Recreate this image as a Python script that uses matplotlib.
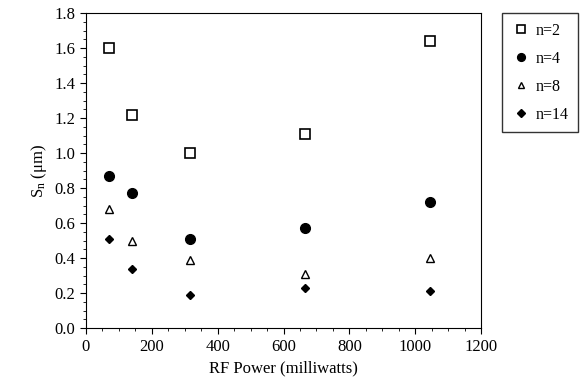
import matplotlib
matplotlib.use("Agg")
import matplotlib.pyplot as plt
from matplotlib.ticker import MultipleLocator

plt.rcParams['font.family'] = ['Liberation Serif', 'DejaVu Serif']
plt.rcParams['mathtext.fontset'] = 'custom'
plt.rcParams['mathtext.rm'] = 'Liberation Serif'
plt.rcParams['mathtext.it'] = 'Liberation Serif'

# data
power = [70, 140, 315, 665, 1045]
s_n2 = [1.60, 1.22, 1.00, 1.11, 1.64]
s_n4 = [0.87, 0.77, 0.51, 0.57, 0.72]
s_n8 = [0.68, 0.50, 0.39, 0.31, 0.40]
s_n14 = [0.51, 0.34, 0.19, 0.23, 0.21]

fig = plt.figure(figsize=(5.84, 3.86), dpi=100)
ax = fig.add_axes([0.147, 0.150, 0.677, 0.816])

ax.plot(power, s_n2, linestyle='none', marker='s', markersize=6.5, mfc='white', mec='black', mew=1.2, label='n=2')
ax.plot(power, s_n4, linestyle='none', marker='o', markersize=7, mfc='black', mec='black', label='n=4')
ax.plot(power, s_n8, linestyle='none', marker='^', markersize=6, mfc='white', mec='black', mew=1.0, label='n=8')
ax.plot(power, s_n14, linestyle='none', marker='D', markersize=4.5, mfc='black', mec='black', label='n=14')

ax.set_xlim(0, 1200)
ax.set_ylim(0, 1.8)
ax.xaxis.set_major_locator(MultipleLocator(200))
ax.xaxis.set_minor_locator(MultipleLocator(50))
ax.yaxis.set_major_locator(MultipleLocator(0.2))
ax.yaxis.set_minor_locator(MultipleLocator(0.05))
ax.yaxis.set_major_formatter(plt.FuncFormatter(lambda v, p: '%.1f' % v))
ax.tick_params(which='major', direction='out', length=4, labelsize=12)
ax.tick_params(which='minor', direction='out', length=2)

ax.set_xlabel('RF Power (milliwatts)', fontsize=12)
ax.set_ylabel('S$_\\mathrm{n}$ (\u03bcm)', fontsize=12)

leg = ax.legend(loc='upper left', bbox_to_anchor=(1.053, 1.0), frameon=True, fancybox=False,
                edgecolor='black', fontsize=11.5, handletextpad=0.3, labelspacing=0.75,
                borderpad=0.6, handlelength=1.2, markerscale=0.8, borderaxespad=0)
leg.get_frame().set_linewidth(1.0)

fig.savefig('out.png', dpi=100)
